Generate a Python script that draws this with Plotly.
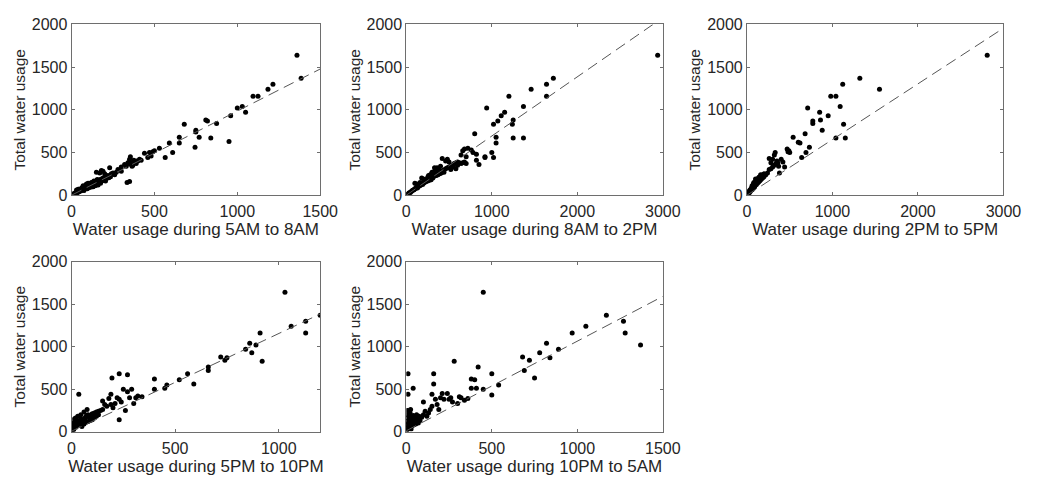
import plotly.graph_objects as go

# ---------------- data ----------------
x_labels = ["Water usage during 5AM to 8AM", "Water usage during 8AM to 2PM",
            "Water usage during 2PM to 5PM", "Water usage during 5PM to 10PM",
            "Water usage during 10PM to 5AM"]
y_label = "Total water usage"
x_max = [1500, 3000, 3000, 1200, 1500]
y_max = 2000
fit_slope = [0.985, 0.693, 0.652, 1.15, 1.055]
fit_intercept = [0, 0, 0, 5, 10]

x1 = [5, 10, 15, 20, 25, 30, 35, 40, 45, 50, 55, 60, 65, 70, 75, 80, 85, 90, 95, 100,
      105, 110, 115, 120, 125, 130, 135, 140, 145, 150, 155, 160, 165, 170, 175, 180, 185,
      190, 195, 200, 205, 210, 215, 220, 225, 150, 170, 180, 190, 200, 120, 100, 60, 40,
      30, 70, 90, 110, 130, 160, 140, 230, 250, 270, 300, 320, 330, 340, 345, 350, 360, 370,
      380, 390, 400, 355, 350, 335, 350, 410, 420, 440, 460, 470, 480, 490, 500, 300, 280,
      260, 240, 365, 375, 390, 530, 565, 590, 610, 650, 650, 680, 745, 750, 750, 770, 810,
      820, 840, 875, 950, 960, 1000, 1030, 1050, 1095, 1125, 1185, 1215, 1360, 1385,
      45, 75, 95, 125, 145, 175, 205, 235, 65, 85, 115, 135, 155]
y1 = [5, 15, 10, 25, 20, 35, 30, 45, 40, 55, 50, 70, 60, 75, 65, 90, 80, 100, 85, 110,
      95, 120, 105, 130, 115, 140, 125, 150, 135, 160, 145, 170, 150, 180, 160, 190, 170,
      200, 180, 210, 190, 220, 200, 230, 205, 270, 260, 290, 280, 250, 150, 140, 80, 70,
      60, 110, 130, 90, 100, 120, 110, 320, 260, 270, 330, 360, 340, 380, 370, 390, 360, 350,
      380, 370, 400, 450, 420, 150, 160, 420, 410, 490, 440, 500, 460, 510, 520, 280, 300,
      240, 250, 340, 410, 400, 550, 440, 610, 500, 680, 610, 830, 560, 760, 740, 680, 880,
      870, 670, 840, 630, 930, 1020, 1040, 970, 1160, 1160, 1240, 1300, 1640, 1370,
      70, 55, 75, 100, 115, 140, 165, 215, 90, 115, 140, 165, 185]

x2 = [5, 20, 40, 60, 80, 100, 120, 140, 160, 180, 200, 220, 240, 260, 280, 300, 320, 340,
      360, 380, 400, 420, 440, 460, 480, 500, 520, 540, 560, 580, 600, 620, 640, 660, 680,
      700, 100, 150, 200, 250, 300, 330, 360, 400, 420, 460, 480, 500, 520, 550, 580, 600,
      640, 660, 680, 700, 720, 760, 800, 780, 820, 850, 820, 30, 50, 70, 90, 110, 130, 150,
      170, 190, 210, 230, 250, 270, 290, 310, 350, 370, 390, 120, 160, 180, 220, 260, 280,
      300, 330, 350, 380, 410, 440, 920, 920, 1000, 1020, 1050, 1050, 1020, 1070, 1110,
      1150, 940, 1200, 1240, 1250, 1250, 1370, 1370, 1460, 1640, 1640, 1720, 2940]
y2 = [5, 15, 30, 45, 60, 75, 90, 100, 115, 130, 140, 155, 170, 180, 195, 210, 220, 230,
      245, 260, 270, 285, 295, 310, 320, 330, 340, 355, 370, 380, 390, 380, 370, 380, 390,
      370, 140, 130, 190, 210, 250, 320, 320, 340, 430, 400, 420, 390, 300, 330, 310, 350,
      470, 520, 540, 450, 550, 530, 720, 500, 480, 360, 410, 25, 35, 55, 65, 80, 85, 110,
      120, 125, 150, 160, 165, 175, 180, 200, 230, 240, 250, 130, 150, 200, 180, 230, 240,
      270, 280, 270, 300, 260, 270, 450, 440, 500, 440, 680, 610, 830, 870, 930,
      970, 1020, 1160, 830, 880, 670, 670, 1040, 1240, 1300, 1160, 1370, 1640]

x3 = [5, 10, 20, 30, 40, 50, 60, 70, 80, 90, 100, 110, 120, 130, 140, 150, 160, 170, 180,
      190, 200, 60, 80, 100, 120, 140, 160, 180, 200, 220, 240, 260, 280, 300, 320, 340, 360,
      260, 280, 300, 320, 330, 350, 370, 380, 400, 420, 440, 470, 480, 490, 500, 15, 25, 35,
      45, 55, 65, 75, 85, 95, 105, 115, 125, 135, 145, 155, 165, 175, 185, 540, 600, 620,
      640, 680, 690, 730, 710, 770, 770, 850, 860, 880, 950, 980, 1040, 1040, 1090, 1120,
      1130, 1150, 1320, 1550, 2810]
y3 = [5, 15, 20, 35, 45, 60, 65, 80, 90, 100, 120, 125, 140, 150, 160, 170, 185, 190, 200,
      210, 220, 110, 150, 190, 180, 210, 240, 230, 250, 240, 260, 300, 310, 330, 350, 370, 380,
      430, 380, 420, 470, 500, 400, 340, 260, 420, 390, 330, 540, 510, 520, 500, 40, 30, 60,
      70, 90, 100, 130, 110, 140, 160, 150, 170, 200, 190, 180, 230, 210, 240, 680, 620, 610,
      440, 720, 500, 560, 1020, 870, 840, 970, 880, 760, 930, 1160, 1160, 670, 1040, 1300,
      830, 670, 1370, 1240, 1640]

x4 = [2, 5, 8, 10, 12, 15, 18, 20, 25, 30, 35, 40, 45, 50, 55, 60, 65, 70, 75, 80, 85, 90,
      95, 100, 110, 120, 130, 140, 150, 20, 30, 45, 60, 75, 35, 15, 10, 5, 25, 40, 50, 60, 70,
      80, 90, 100, 110, 120, 130, 150, 170, 190, 200, 210, 220, 230, 240, 250, 260, 270, 280,
      290, 300, 310, 320, 340, 195, 230, 270, 230, 190, 180, 160, 400, 400, 450, 460, 520,
      560, 590, 660, 660, 720, 740, 750, 840, 860, 870, 890, 910, 920, 1030, 1060, 1130,
      1130, 1200]
y4 = [10, 30, 60, 80, 100, 120, 140, 50, 70, 90, 110, 130, 150, 100, 120, 140, 160, 180,
      190, 200, 170, 180, 200, 210, 220, 230, 240, 250, 260, 160, 180, 200, 230, 260, 440, 150,
      20, 5, 130, 90, 60, 90, 110, 120, 130, 140, 170, 180, 200, 360, 300, 320, 280, 330, 400,
      380, 350, 500, 250, 470, 400, 500, 330, 400, 420, 410, 630, 680, 670, 140, 440, 390,
      320, 500, 620, 510, 550, 610, 680, 560, 760, 720, 880, 840, 870, 970, 1040, 930, 1020,
      1160, 830, 1640, 1240, 1300, 1160, 1370]

x5 = [0, 2, 3, 4, 5, 6, 8, 10, 10, 12, 15, 18, 20, 22, 25, 28, 30, 35, 40, 40, 45, 50, 55,
      60, 65, 70, 75, 80, 90, 100, 100, 110, 120, 130, 140, 150, 150, 160, 160, 170, 180,
      190, 200, 210, 220, 240, 250, 260, 270, 280, 300, 310, 320, 340, 360, 380, 380, 400,
      410, 420, 450, 500, 500, 540, 5, 8, 15, 25, 35, 45, 55, 65, 450, 680, 690, 720, 750,
      780, 820, 840, 890, 970, 1050, 1170, 1270, 1280, 1370]
y5 = [10, 40, 80, 120, 160, 200, 250, 680, 440, 100, 60, 140, 180, 220, 260, 30, 110, 150,
      190, 510, 80, 120, 160, 200, 140, 100, 180, 130, 170, 200, 350, 240, 180, 220, 260, 300,
      440, 560, 680, 380, 320, 260, 400, 450, 380, 450, 380, 400, 350, 830, 330, 410, 400,
      370, 390, 510, 620, 610, 510, 760, 500, 430, 680, 550, 20, 60, 90, 50, 70, 110, 90, 130,
      1640, 880, 720, 840, 630, 930, 1040, 870, 970, 1160, 1240, 1370, 1300, 1160, 1020]

xs = [x1, x2, x3, x4, x5]
ys = [y1, y2, y3, y4, y5]

# ---------------- layout geometry ----------------
W, H = 1042, 485
x_dom_px = [(69, 323), (411, 673), (759, 1021), (69, 323), (411, 673)]
y_dom_px = [(17, 194), (17, 194), (17, 194), (263, 439), (263, 439)]

fig = go.Figure()
font_color = "#262626"
line_color = "#6e6e6e"
FONT = "Liberation Sans, Arial, sans-serif"

for i in range(5):
    ax = "" if i == 0 else str(i + 1)
    fig.add_trace(go.Scatter(
        x=xs[i], y=ys[i], mode="markers",
        marker=dict(color="black", size=5, line=dict(width=0)),
        xaxis="x" + ax, yaxis="y" + ax, showlegend=False, hoverinfo="skip"))
    xr = [0, x_max[i]]
    fig.add_trace(go.Scatter(
        x=xr, y=[fit_intercept[i] + fit_slope[i] * v for v in xr], mode="lines",
        line=dict(color="#555555", width=1, dash="11px,6px"),
        xaxis="x" + ax, yaxis="y" + ax, showlegend=False, hoverinfo="skip"))

    x0, x1p = x_dom_px[i]
    yt, yb = y_dom_px[i]
    common = dict(showgrid=False, zeroline=False, showline=True, linecolor=line_color,
                  linewidth=1, mirror="ticks", ticks="inside", ticklen=3,
                  tickcolor=line_color,
                  tickfont=dict(family=FONT, size=16, color=font_color))
    fig.update_layout(**{
        "xaxis" + ax: dict(domain=[x0 / W, x1p / W], range=xr, anchor="y" + ax,
                           dtick=1000 if x_max[i] == 3000 else 500,
                           ticklabelstandoff=2,
                           title=dict(text=x_labels[i], standoff=2,
                                      font=dict(family=FONT, size=17, color=font_color)),
                           **common),
        "yaxis" + ax: dict(domain=[1 - yb / H, 1 - yt / H], range=[0, y_max],
                           anchor="x" + ax, dtick=500,
                           title=dict(text=y_label, standoff=2,
                                      font=dict(family=FONT, size=15.5, color=font_color)),
                           **common),
    })

fig.update_layout(width=W, height=H, margin=dict(l=0, r=0, t=0, b=0),
                  paper_bgcolor="white", plot_bgcolor="white")
fig.write_html("out.html", config={"displayModeBar": False},
               post_script="document.body.style.margin='0';document.body.style.overflow='hidden';")
